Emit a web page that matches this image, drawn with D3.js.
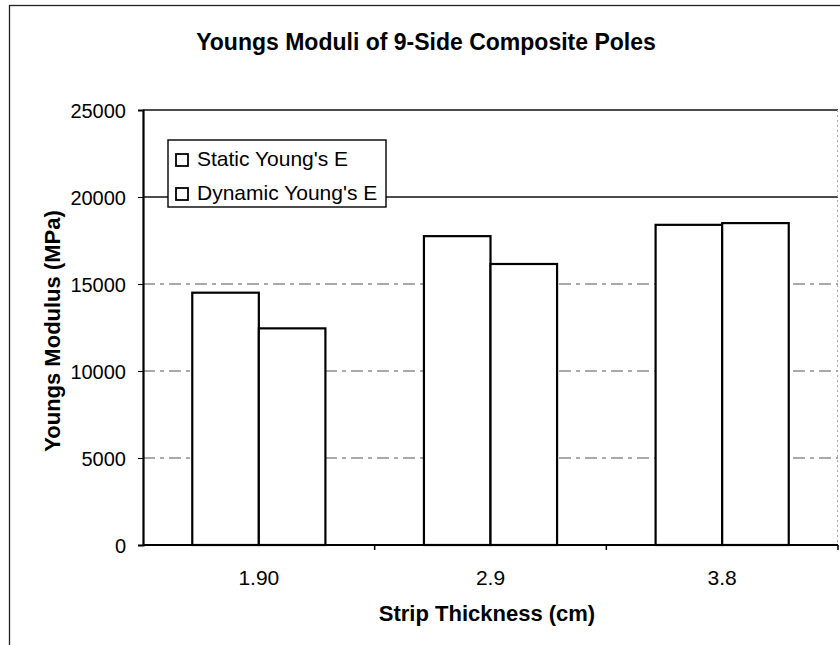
<!DOCTYPE html>
<html lang="en">
<head>
    <meta charset="UTF-8">
    <title>Youngs Moduli of 9-Side Composite Poles</title>
    <script src="https://d3js.org/d3.v7.min.js"></script>
    <style>
        body { margin: 0; background: #fff; }
        svg text { font-family: "Liberation Sans", Arial, sans-serif; fill: #000; }
    </style>
</head>
<body>
    <div id="chart"></div>

    <script>
        // data
        var thickness = ["1.90", "2.9", "3.8"];
        var seriesNames = ["Static Young's E", "Dynamic Young's E"];
        var staticE = [14500, 17750, 18400];
        var dynamicE = [12450, 16150, 18500];
        var yTicks = [0, 5000, 10000, 15000, 20000, 25000];

        var width = 840, height = 645;
        var margin = { top: 110, right: 2, bottom: 100, left: 143 };
        var plotW = width - margin.left - margin.right;
        var plotH = height - margin.top - margin.bottom;

        var svg = d3.select("#chart").append("svg")
            .attr("width", width)
            .attr("height", height);

        // outer chart border (top + left, runs off the page)
        svg.append("rect")
            .attr("x", 9.5).attr("y", 5.5)
            .attr("width", 900).attr("height", 700)
            .attr("fill", "none").attr("stroke", "#222").attr("stroke-width", 1.3);

        var g = svg.append("g")
            .attr("transform", "translate(" + margin.left + "," + margin.top + ")");

        var x0 = d3.scaleBand().domain(thickness).range([0, plotW]).paddingInner(0).paddingOuter(0);
        var x1 = d3.scaleBand().domain(seriesNames).range([0, x0.bandwidth()]).paddingOuter(0.74).paddingInner(0);
        var y = d3.scaleLinear().domain([0, 25000]).range([plotH, 0]);

        // grid lines
        g.selectAll(".grid").data(yTicks.filter(d => d > 0)).enter()
            .append("line")
            .attr("x1", 0).attr("x2", plotW)
            .attr("y1", d => y(d)).attr("y2", d => y(d))
            .attr("stroke", d => d >= 20000 ? "#111" : "#555")
            .attr("stroke-width", d => d >= 20000 ? 1.5 : 1.1)
            .attr("stroke-dasharray", d => d >= 20000 ? null : "12,5,4,5");

        // faint right edge of plot area
        g.append("line")
            .attr("x1", plotW - 0.5).attr("x2", plotW - 0.5)
            .attr("y1", 0).attr("y2", plotH)
            .attr("stroke", "#aaa").attr("stroke-dasharray", "2,3");

        // bars
        var rows = thickness.map((t, i) => ({ t: t, vals: [staticE[i], dynamicE[i]] }));
        var grp = g.selectAll(".grp").data(rows).enter().append("g")
            .attr("transform", d => "translate(" + x0(d.t) + ",0)");
        grp.selectAll("rect").data(d => d.vals.map((v, j) => ({ s: seriesNames[j], v: v }))).enter()
            .append("rect")
            .attr("x", d => x1(d.s))
            .attr("y", d => y(d.v))
            .attr("width", x1.bandwidth())
            .attr("height", d => plotH - y(d.v))
            .attr("fill", "#fff")
            .attr("stroke", "#000")
            .attr("stroke-width", 2.2);

        // y axis
        var yAxis = g.append("g")
            .call(d3.axisLeft(y).tickValues(yTicks).tickSize(5).tickPadding(12).tickFormat(d3.format("d")));
        yAxis.select(".domain").attr("stroke-width", 2.2);
        yAxis.selectAll("text").style("font-size", "20px").attr("dy", "0.36em");

        // x axis, ticks at category boundaries
        var xAxis = g.append("g").attr("transform", "translate(0," + plotH + ")");
        xAxis.append("line").attr("x1", 0).attr("x2", plotW).attr("stroke", "#000").attr("stroke-width", 2.2);
        xAxis.selectAll(".tk").data(thickness).enter().append("line")
            .attr("x1", d => x0(d) + x0.bandwidth()).attr("x2", d => x0(d) + x0.bandwidth())
            .attr("y1", 0).attr("y2", 5).attr("stroke", "#000").attr("stroke-width", 1.5);
        xAxis.selectAll(".lbl").data(thickness).enter().append("text")
            .attr("x", d => x0(d) + x0.bandwidth() / 2)
            .attr("y", 40)
            .attr("text-anchor", "middle")
            .style("font-size", "21px")
            .text(d => d);

        // titles
        svg.append("text")
            .attr("x", 426).attr("y", 50)
            .attr("text-anchor", "middle")
            .style("font-size", "23px").style("font-weight", "bold")
            .text("Youngs Moduli of 9-Side Composite Poles");

        svg.append("text")
            .attr("x", 487).attr("y", 621)
            .attr("text-anchor", "middle")
            .style("font-size", "22px").style("font-weight", "bold")
            .text("Strip Thickness (cm)");

        svg.append("text")
            .attr("transform", "translate(60,331) rotate(-90)")
            .attr("text-anchor", "middle")
            .style("font-size", "22px").style("font-weight", "bold")
            .text("Youngs Modulus (MPa)");

        // legend
        var leg = svg.append("g").attr("transform", "translate(168,140)");
        leg.append("rect")
            .attr("width", 218).attr("height", 67)
            .attr("fill", "#fff").attr("stroke", "#000").attr("stroke-width", 1.4);
        var li = leg.selectAll(".li").data(seriesNames).enter().append("g")
            .attr("transform", (d, i) => "translate(0," + (26 + i * 34) + ")");
        li.append("rect")
            .attr("x", 8).attr("y", -12).attr("width", 12).attr("height", 12)
            .attr("fill", "#fff").attr("stroke", "#000").attr("stroke-width", 1.8);
        li.append("text")
            .attr("x", 29).attr("y", 0)
            .style("font-size", "21px")
            .text(d => d);
    </script>
</body>
</html>
